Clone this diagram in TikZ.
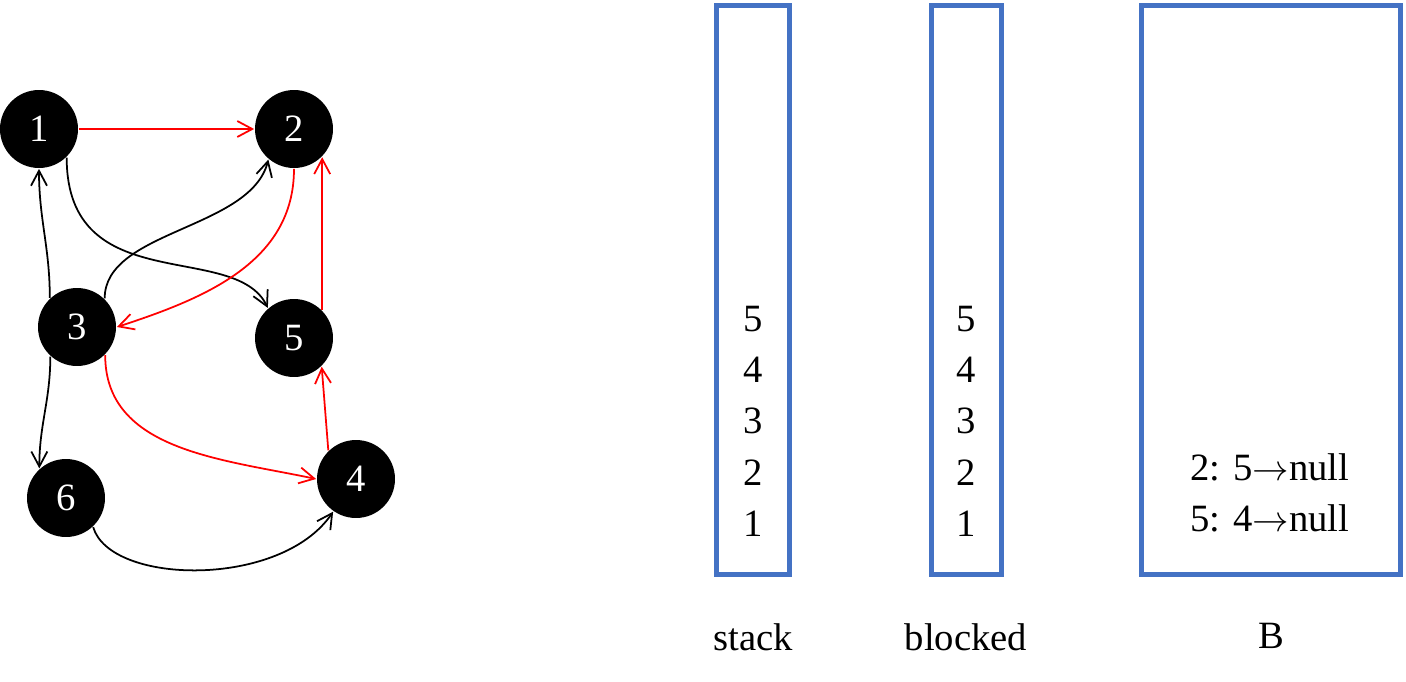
\documentclass[tikz,border=0pt]{standalone}
\usepackage{fontspec}
\setmainfont{Liberation Serif}
\newfontfamily\timesfont{Liberation Serif}
\usetikzlibrary{positioning,chains,arrows.meta}
\definecolor{boxblue}{RGB}{68,114,196}

\begin{document}
\begin{tikzpicture}[x=0.02cm,y=0.02cm,line width=1pt,
  every node/.style={font=\timesfont\fontsize{22}{27}\selectfont},
  vnode/.style={circle,fill=black,text=white,minimum size=1.56cm,inner sep=0pt},
  listbox/.style={draw=boxblue,line width=0.1cm,minimum height=11.38cm,inner sep=0pt},
  entry/.style={inner sep=0pt,minimum height=0.995cm,text height=0.52cm,text depth=0pt},
  ->,>={Straight Barb[length=3mm,width=3.2mm]}
]
\useasboundingbox (0,0) rectangle (1406,681);

% the vertices of the graph
\node[vnode] (v1) at (39,552) {1};
\node[vnode] (v2) at (294,552) {2};
\node[vnode] (v3) at (77,354) {3};
\node[vnode] (v5) at (294,343) {5};
\node[vnode] (v6) at (66,183) {6};
\node[vnode] (v4) at (356,202) {4};

% the edges
\draw[red] (v1) -- (v2);
\draw (v1.-46) .. controls +(0,-142) and +(-33,68) .. (v5.131);
\draw (v3.46) .. controls +(0,68) and +(-18,-70) .. (v2.-130);
\draw[red] (v2.-90) to[out=-90,in=18] (v3.0);
\draw[red] (v5.45) -- (v2.-45);
\draw (v3.133) to[out=90,in=-90] (v1.-90);
\draw (v3.-132) to[out=-90,in=90] (v6.132);
\draw[red] (v3.-45) to[out=-90,in=168] (v4.180);
\draw[red] (v4.134) -- (v5.-46);
\draw (v6.-47) .. controls +(17,-58) and +(-52,-77) .. (v4.-125);

% the boxes
\node[listbox,minimum width=1.46cm,label={[yshift=-0.8cm]below:stack}] (stackbox) at (753,391) {};
\node[listbox,minimum width=1.4cm,label={[yshift=-0.8cm]below:blocked}] (blockedbox) at (966,391) {};
\node[listbox,minimum width=5.2cm,label={[yshift=-0.8cm]below:B}] (bbox) at (1271,391) {};

% the stack
\begin{scope}[start chain=going below,node distance=0pt]
  \node[entry,on chain] (s5) at (753,363) {5};
  \node[entry,on chain] (s4) {4};
  \node[entry,on chain] (s3) {3};
  \node[entry,on chain] (s2) {2};
  \node[entry,on chain] (s1) {1};
\end{scope}

% the blocked set
\begin{scope}[start chain=going below,node distance=0pt]
  \node[entry,on chain] (b5) at (966,363) {5};
  \node[entry,on chain] (b4) {4};
  \node[entry,on chain] (b3) {3};
  \node[entry,on chain] (b2) {2};
  \node[entry,on chain] (b1) {1};
\end{scope}

% the lists of B
\begin{scope}[start chain=going below,node distance=0pt]
  \node[entry,on chain] (l2) at (1270,214) {2: 5$\rightarrow$null};
  \node[entry,on chain] (l5) {5: 4$\rightarrow$null};
\end{scope}
\end{tikzpicture}
\end{document}
